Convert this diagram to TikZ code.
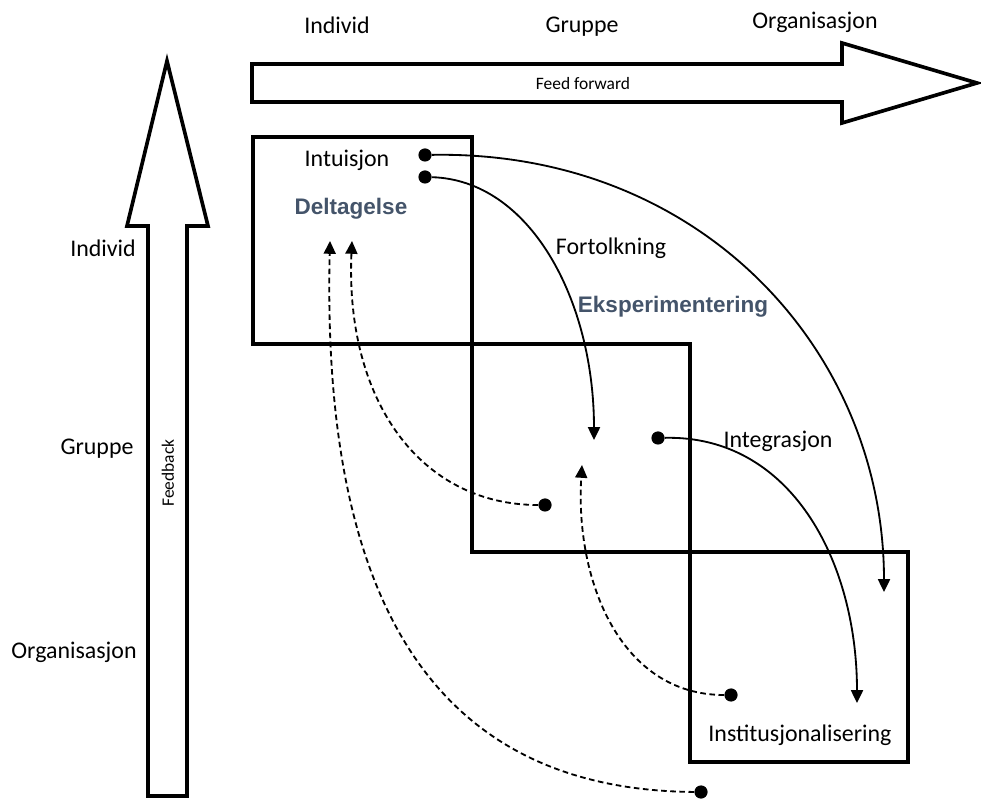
\documentclass[tikz,border=0pt]{standalone}
\usepackage{fontspec}
\setmainfont{Carlito}
\newfontfamily\arialfont{Liberation Sans}
\usetikzlibrary{arrows.meta}
\definecolor{kwblue}{HTML}{44546A}
\tikzset{
  lbl/.style={font=\fontsize{17}{20}\selectfont},
  kw/.style={font=\arialfont\bfseries\fontsize{16}{19}\selectfont,text=kwblue},
  note/.style={font=\fontsize{12.4}{14}\selectfont},
  dot/.style={circle,fill,inner sep=0pt,minimum size=0.33cm},
  flow/.style={line width=1.3pt,-{Triangle[length=0.32cm,width=0.3cm]}},
  back/.style={flow,dash pattern=on 4pt off 2.5pt},
  stair/.style={line width=2.6pt},
  bigarrow/.style={line width=2.6pt,line join=miter}
}

\begin{document}
\begin{tikzpicture}[x=0.025cm,y=-0.025cm]
\useasboundingbox (0,0) rectangle (981,799);
\draw[bigarrow] (252,64)--(842,64)--(842,43)--(977,83)--(842,123)--(842,102)--(252,102)--cycle;
\draw[bigarrow] (148,796)--(148,226)--(127,226)--(167,61)--(208,226)--(187,226)--(187,796)--cycle;
\node[note] (ff) at (583,84) {Feed forward};
\node[note,rotate=90] (fb) at (168,473) {Feedback};
\node[lbl] (ti) at (337,25) {Individ};
\node[lbl] (tg) at (582,27) {Gruppe};
\node[lbl] (to) at (815,22) {Organisasjon};
\node[lbl] (li) at (103,248) {Individ};
\node[lbl] (lg) at (97,449) {Gruppe};
\node[lbl] (lo) at (74,652) {Organisasjon};
\draw[stair] (253,137) rectangle (472,344);
\draw[stair] (472,344) rectangle (690,552);
\draw[stair] (690,552) rectangle (908,762);
\node[lbl] (intu) at (347,160) {Intuisjon};
\node[kw] (delt) at (351,209) {Deltagelse};
\node[lbl] (fort) at (611,248) {Fortolkning};
\node[kw] (eksp) at (673,307) {Eksperimentering};
\node[lbl] (integ) at (778,441) {Integrasjon};
\node[lbl] (inst) at (800,735) {Institusjonalisering};
\node[dot] (a1) at (425,155) {};
\node[dot] (a2) at (425,177) {};
\node[dot] (a3) at (658,438) {};
\node[dot] (d1) at (545,505) {};
\node[dot] (d2) at (731,695) {};
\node[dot] (d3) at (701,792) {};
\coordinate (t1) at (884,592);
\coordinate (t2) at (594,440);
\coordinate (t3) at (857,703);
\coordinate (t4) at (352,241);
\coordinate (t5) at (582,465);
\coordinate (t6) at (330,241);
\draw[flow] (a1) .. controls (700,150) and (884,350) .. (t1);
\draw[flow] (a2) .. controls (530,180) and (594,300) .. (t2);
\draw[flow] (a3) .. controls (790,435) and (857,560) .. (t3);
\draw[back] (d1) .. controls (420,505) and (345,400) .. (t4);
\draw[back] (d2) .. controls (620,695) and (575,580) .. (t5);
\draw[back] (d3) .. controls (420,790) and (322,580) .. (t6);
\end{tikzpicture}
\end{document}
